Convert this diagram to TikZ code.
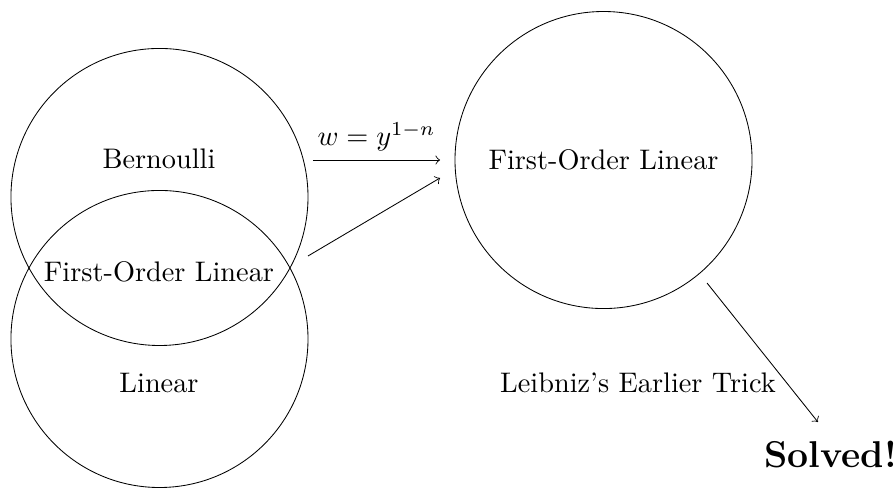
\documentclass[tikz,border=0pt]{standalone}
\begin{document}
\begin{tikzpicture}
	[line width=0.3pt,
	set/.style={circle,draw,minimum size=3.69cm},
	every node/.style={inner sep=3pt}]
	\useasboundingbox (0,0) rectangle (11.13,-6.087);
	\node[set] (bern) at (1.981,-2.447) {};
	\node[set] (lin) at (1.981,-4.211) {};
	\node[set] (fol) at (7.497,-1.988) {First-Order Linear};
	\node (bernt) at (1.975,-1.975) {Bernoulli};
	\node (both) at (1.975,-3.383) {First-Order Linear};
	\node (lint) at (1.975,-4.758) {Linear};
	\node (trick) at (7.925,-4.758) {Leibniz's Earlier Trick};
	\node (solved) at (10.32,-5.65) {\fontsize{13.2}{16}\selectfont\bfseries Solved!};
	\coordinate (s1) at (3.888,-1.988);
	\coordinate (e1) at (5.466,-1.988);
	\coordinate (s2) at (3.826,-3.180);
	\coordinate (e2) at (5.466,-2.211);
	\coordinate (s3) at (8.783,-3.516);
	\coordinate (e3) at (10.16,-5.242);
	\draw [->] (s1) -- node[above] {$w=y^{1-n}$} (e1);
	\draw [->] (s2) -- (e2);
	\draw [->] (s3) -- (e3);
\end{tikzpicture}
\end{document}
